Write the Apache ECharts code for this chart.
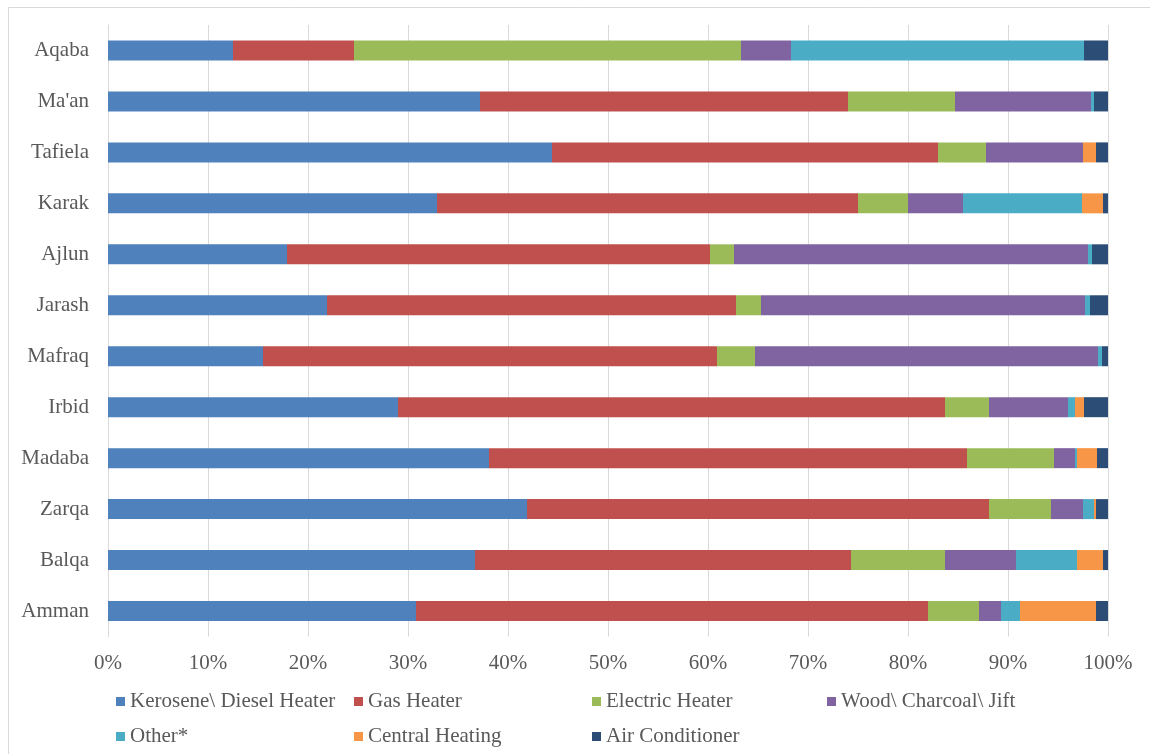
<!DOCTYPE html>
<html>
<head>
<meta charset="utf-8">
<script src="https://cdn.jsdelivr.net/npm/echarts@6/dist/echarts.min.js"></script>
<style>
  html, body { margin: 0; padding: 0; background: #ffffff; }
  #chart { width: 1150px; height: 754px; }
</style>
</head>
<body>
<div id="chart"></div>
<script>
// Governorates, listed bottom to top
var categories = ['Amman', 'Balqa', 'Zarqa', 'Madaba', 'Irbid', 'Mafraq', 'Jarash', 'Ajlun', 'Karak', 'Tafiela', "Ma'an", 'Aqaba'];

// Share of households by main heating type (%)
var kerosene = [30.8, 36.7, 41.9, 38.1, 29.0, 15.5, 21.9, 17.9, 32.9, 44.4, 37.2, 12.5];
var gas      = [51.2, 37.6, 46.2, 47.8, 54.7, 45.4, 40.9, 42.3, 42.1, 38.6, 36.8, 12.1];
var electric = [5.1, 9.4, 6.2, 8.7, 4.4, 3.8, 2.5, 2.4, 5.0, 4.8, 10.7, 38.7];
var wood     = [2.2, 7.1, 3.2, 2.1, 7.9, 34.3, 32.4, 35.4, 5.5, 9.7, 13.6, 5.0];
var other    = [1.9, 6.1, 1.1, 0.2, 0.7, 0.4, 0.5, 0.4, 11.9, 0, 0.3, 29.3];
var central  = [7.6, 2.6, 0.2, 2.0, 0.9, 0, 0, 0, 2.1, 1.3, 0, 0];
var aircon   = [1.2, 0.5, 1.2, 1.1, 2.4, 0.6, 1.8, 1.6, 0.5, 1.2, 1.4, 2.4];

var seriesNames = ['Kerosene\\ Diesel Heater', 'Gas Heater', 'Electric Heater', 'Wood\\ Charcoal\\ Jift', 'Other*', 'Central Heating', 'Air Conditioner'];
var seriesData = [kerosene, gas, electric, wood, other, central, aircon];
var colors = ['#4F81BD', '#C0504D', '#9BBB59', '#8064A2', '#4BACC6', '#F79646', '#2C4D75'];

var xTicks = [0, 10, 20, 30, 40, 50, 60, 70, 80, 90, 100];

var FONT = "'Liberation Serif', 'Times New Roman', serif";
var TEXT = '#595959';

// Legend laid out as a two-row grid of fixed columns
var legendSlots = [
  { left: 116, top: 691 }, { left: 354, top: 691 }, { left: 592, top: 691 }, { left: 827, top: 691 },
  { left: 116, top: 726 }, { left: 354, top: 726 }, { left: 592, top: 726 }
];
var legends = seriesNames.map(function (name, i) {
  return {
    data: [name],
    left: legendSlots[i].left,
    top: legendSlots[i].top,
    icon: 'rect',
    itemWidth: 9,
    itemHeight: 9,
    padding: 0,
    selectedMode: false,
    textStyle: { fontFamily: FONT, fontSize: 21, color: TEXT }
  };
});

var series = seriesNames.map(function (name, i) {
  return {
    name: name,
    type: 'bar',
    stack: 'total',
    barWidth: 20,
    itemStyle: { color: colors[i] },
    emphasis: { disabled: true },
    data: seriesData[i]
  };
});

var chart = echarts.init(document.getElementById('chart'), null, { renderer: 'canvas' });
chart.setOption({
  animation: false,
  backgroundColor: '#ffffff',
  color: colors,
  grid: { left: 108, right: 42, top: 25, bottom: 117.5, containLabel: false },
  xAxis: {
    type: 'value',
    min: xTicks[0],
    max: xTicks[xTicks.length - 1],
    interval: 10,
    axisLine: { show: false },
    axisTick: { show: false },
    splitLine: { show: true, lineStyle: { color: '#d9d9d9', width: 1 } },
    axisLabel: {
      formatter: '{value}%',
      fontFamily: FONT,
      fontSize: 21,
      color: TEXT,
      margin: 16
    }
  },
  yAxis: {
    type: 'category',
    data: categories,
    axisLine: { show: true, lineStyle: { color: '#d9d9d9', width: 1 } },
    axisTick: { show: false },
    axisLabel: {
      fontFamily: FONT,
      fontSize: 21,
      color: TEXT,
      margin: 19
    }
  },
  legend: legends,
  graphic: [{
    type: 'rect',
    shape: { x: 8.5, y: 7.5, width: 1150, height: 760 },
    style: { fill: 'none', stroke: '#d9d9d9', lineWidth: 1 },
    silent: true,
    z: -1
  }],
  series: series
});
</script>
</body>
</html>
